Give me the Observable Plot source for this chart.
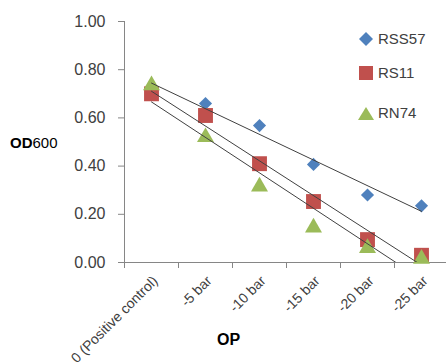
<!DOCTYPE html>
<html><head><meta charset="utf-8">
<script src="https://cdn.jsdelivr.net/npm/d3@7"></script>
<script src="https://cdn.jsdelivr.net/npm/@observablehq/plot@0.6"></script>
<style>
body{margin:0;background:#fff;}
#wrap{position:relative;width:446px;height:363px;font-family:"Liberation Sans",Arial,sans-serif;overflow:hidden;background:#fff}
#ylab{position:absolute;left:10px;top:134px;font-size:15px;color:#000}
#xlab{position:absolute;left:217px;top:331px;font-size:16px;font-weight:bold;color:#000}
.leg{position:absolute;left:358px;font-size:15px;color:#404040;display:flex;align-items:center}
.leg svg{margin-right:4px}
</style></head><body><div id="wrap"></div>
<script>
const categories = ["0 (Positive control)", "-5 bar", "-10 bar", "-15 bar", "-20 bar", "-25 bar"];
const seriesNames = ["RSS57", "RS11", "RN74"];
const rss57 = [0.72, 0.66, 0.568, 0.407, 0.28, 0.235];
const rs11 = [0.70, 0.61, 0.41, 0.253, 0.095, 0.03];
const rn74 = [0.735, 0.52, 0.315, 0.145, 0.06, 0.015];
const yTicks = [0, 0.2, 0.4, 0.6, 0.8, 1.0];
const colors = ["#4F81BD", "#C0504D", "#9BBB59"];
const symbols = ["diamond2", "square", "triangle"];
const radii = [5.9, 8.4, 6.3];

const seriesValues = [rss57, rs11, rn74];
const data = seriesValues.flatMap((vals, s) => vals.map((v, i) => ({series: seriesNames[s], i, v})));
const boundaries = d3.range(categories.length + 1).map(k => k - 0.5);
const catIdx = categories.map((c, i) => i);

const plot = Plot.plot({
  width: 446, height: 363,
  marginLeft: 124, marginRight: 0, marginTop: 21, marginBottom: 101,
  style: {fontFamily: '"Liberation Sans", Arial, sans-serif', background: "transparent"},
  x: {type: "linear", domain: [-0.5, categories.length - 0.5], range: [124, 448], axis: null},
  y: {domain: [0, 1], range: [262, 21], axis: null},
  marks: [
    Plot.ruleX([-0.5], {y1: 0, y2: 1, stroke: "#868686"}),
    Plot.ruleY([0], {x1: -0.5, x2: 5.5, stroke: "#868686"}),
    Plot.axisY({ticks: yTicks, tickFormat: d3.format(".2f"), tickSize: 6, tickPadding: 13, stroke: "#868686", fill: "#404040", fontSize: 16, label: null}),
    Plot.axisX({ticks: boundaries, tickFormat: () => "", tickSize: 6, stroke: "#868686", label: null}),
    Plot.text(catIdx, {x: d => d, y: () => 0, text: d => categories[d], rotate: -45, textAnchor: "end", dy: 16, dx: 4, fontSize: 14, fill: "#404040"}),
    ...seriesNames.map((name, s) =>
      Plot.dot(data.filter(d => d.series === name), {x: "i", y: "v", symbol: () => symbols[s], fill: colors[s], stroke: "none", r: radii[s]})
    ),
    Plot.linearRegressionY(data, {x: "i", y: "v", z: "series", stroke: "#404040", strokeWidth: 1, ci: 0, clip: true})
  ],
  symbol: {type: "identity"}
});

const wrap = document.getElementById("wrap");
wrap.appendChild(plot);

const yl = document.createElement("div");
yl.id = "ylab"; yl.innerHTML = "<b>OD</b>600";
wrap.appendChild(yl);
const xl = document.createElement("div");
xl.id = "xlab"; xl.textContent = "OP";
wrap.appendChild(xl);

const legTops = [30, 64, 104];
const shapes = [
  c => `<polygon points="7,0 14,7 7,14 0,7" fill="${c}"/>`,
  c => `<rect x="0" y="0" width="14" height="14" fill="${c}"/>`,
  c => `<polygon points="7,1 15,14 -1,14" fill="${c}"/>`
];
seriesNames.forEach((name, s) => {
  const d = document.createElement("div");
  d.className = "leg";
  d.style.top = legTops[s] + "px";
  d.innerHTML = `<svg width="16" height="16" viewBox="-1 -1 16 16">${shapes[s](colors[s])}</svg><span>${name}</span>`;
  wrap.appendChild(d);
});
</script></body></html>
